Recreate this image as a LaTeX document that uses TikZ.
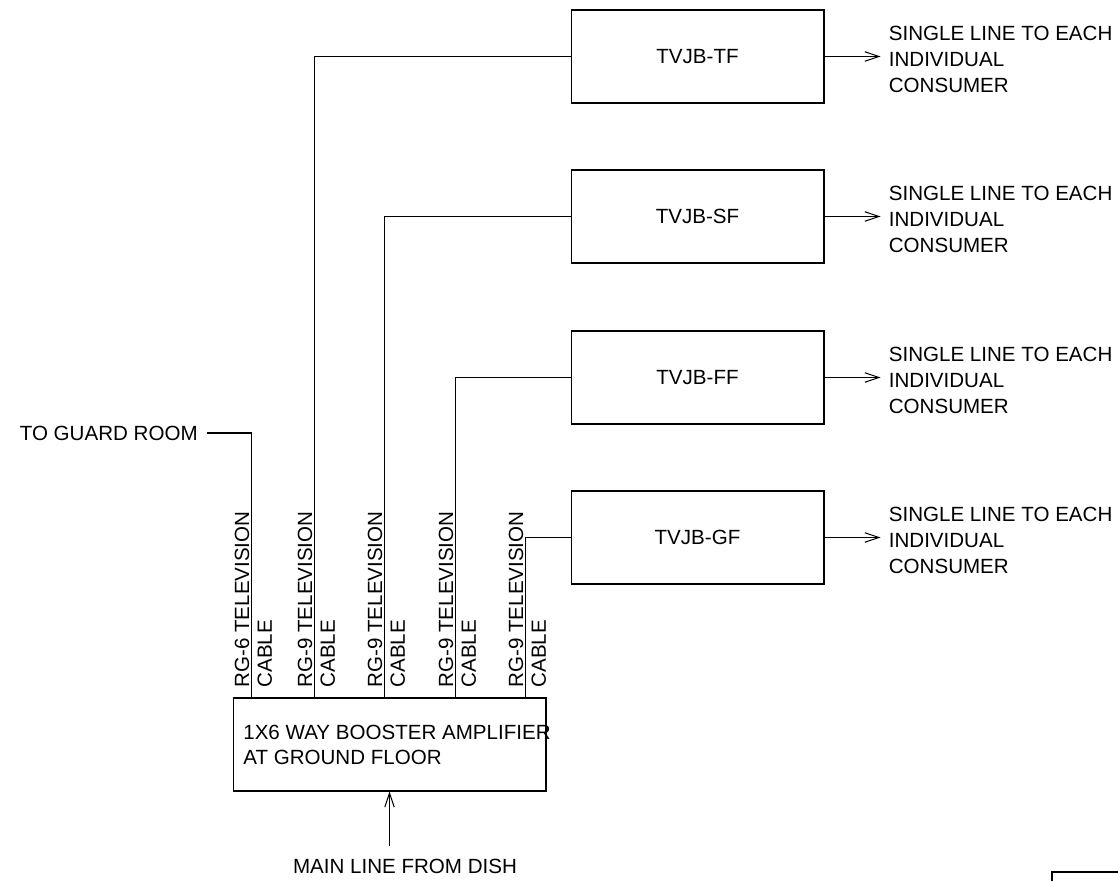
\documentclass[tikz,border=0pt]{standalone}
\usepackage{fontspec}
\setmainfont{Liberation Sans}
\usetikzlibrary{arrows.meta, positioning}

\begin{document}
\begin{tikzpicture}[
  x=0.02cm, y=-0.02cm,
  every node/.style={font=\fontsize{11.7}{14.6}\selectfont},
  jbox/.style={draw, line width=0.6pt, minimum width=5.06cm, minimum height=1.86cm, inner sep=0pt},
  ampbox/.style={draw, line width=0.6pt, minimum width=6.26cm, minimum height=1.86cm, inner sep=0pt},
  outtext/.style={anchor=west, align=left, inner sep=0pt},
  cablel/.style={rotate=90, anchor=south west, inner sep=1pt},
  cabler/.style={rotate=90, anchor=north west, inner sep=1pt},
  wire/.style={line width=0.6pt},
  arr/.style={-{Straight Barb[length=2.8mm, width=1.9mm]}, line width=0.6pt}
]
  \useasboundingbox (0,0) rectangle (1118,881);

  % Amplifier
  \node[ampbox] (amp) at (389.5,744.5) {};
  \node[anchor=west, align=left, inner sep=0pt] (amptext) at (243,745) {1X6 WAY BOOSTER AMPLIFIER\\AT GROUND FLOOR};

  % Junction boxes
  \node[jbox] (tf) at (697.5,56.5) {TVJB-TF};
  \node[jbox] (sf) at (697.5,216.5) {TVJB-SF};
  \node[jbox] (ff) at (697.5,377.5) {TVJB-FF};
  \node[jbox] (gf) at (697.5,537.5) {TVJB-GF};

  % Ports on top of the amplifier
  \foreach \p/\dx in {0/19, 1/82, 2/152, 3/223, 4/293}
    \path (amp.north west) ++(\dx,0) coordinate (p\p);

  % Cable labels
  \foreach \p/\rg in {0/6, 1/9, 2/9, 3/9, 4/9} {
    \node[cablel] (rg\p) at ([yshift=0.16cm]p\p) {RG-\rg{} TELEVISION};
    \node[cabler] (cab\p) at ([xshift=0.08cm, yshift=0.16cm]p\p) {CABLE};
  }

  % Guard room line
  \node[anchor=east, inner sep=0pt, inner xsep=0.18cm] (guard) at (207,433) {TO GUARD ROOM};
  \draw[wire] (guard.east) -| (p0);

  % Connections
  \draw[wire] (p1) |- (tf.west);
  \draw[wire] (p2) |- (sf.west);
  \draw[wire] (p3) |- (ff.west);
  \draw[wire] (p4) |- (gf.west);

  % Outputs
  \foreach \n in {tf, sf, ff, gf} {
    \draw[arr] (\n.east) -- ++(56,0) coordinate (\n o);
    \node[outtext] (\n txt) at ([xshift=0.16cm, yshift=-0.06cm]\n o) {SINGLE LINE TO EACH\\INDIVIDUAL\\CONSUMER};
  }

  % Main line
  \node[anchor=north, inner sep=0pt] (dish) at (405,859) {MAIN LINE FROM DISH};
  \draw[arr] (amp.south |- dish.north) ++(0,-13) -- (amp.south);

  % Frame corner
  \draw[wire] (1052,881) -- (1052,872) -- (1118,872);
\end{tikzpicture}
\end{document}
